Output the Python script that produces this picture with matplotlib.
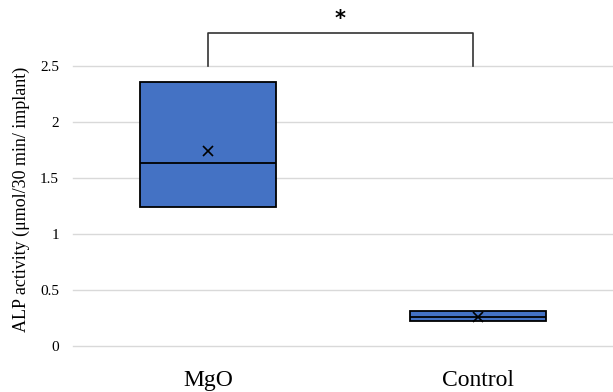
import numpy as np
import matplotlib.pyplot as plt

plt.rcParams['font.family'] = ['Liberation Serif', 'DejaVu Serif']

groups = ['MgO', 'Control']
mgo_vals = [1.24, 1.63, 2.36]
control_vals = [0.22, 0.26, 0.31]
yticks = [0, 0.5, 1, 1.5, 2, 2.5]
ytick_labels = ['0', '0.5', '1', '1.5', '2', '2.5']

# three replicates per group: quartiles (exclusive method) land on min/max
stats = []
for name, vals in zip(groups, [mgo_vals, control_vals]):
    v = np.sort(vals)
    stats.append(dict(label=name, med=np.median(v), q1=v[0], q3=v[-1],
                      whislo=v[0], whishi=v[-1], mean=np.mean(v), fliers=[]))

fig = plt.figure(figsize=(6.13, 3.92), dpi=100)
ax = fig.add_axes([73/613, 1-346/392, 540/613, 280/392])

ax.bxp(stats, positions=[0, 1], widths=0.507, patch_artist=True,
       showmeans=True, showcaps=False,
       boxprops=dict(facecolor='#4472C4', edgecolor='black', linewidth=1.3),
       medianprops=dict(color='black', linewidth=1.3),
       whiskerprops=dict(color='black', linewidth=1.3),
       meanprops=dict(marker='x', markeredgecolor='black', markersize=7, markeredgewidth=1.2))

ax.set_xlim(-0.5, 1.5)
ax.set_ylim(0, 2.5)
ax.set_yticks(yticks)
ax.set_yticklabels(ytick_labels, fontsize=11)
ax.set_xticks([0, 1])
ax.set_xticklabels(groups, fontsize=17)
ax.tick_params(axis='y', length=0, pad=10)
ax.tick_params(axis='x', length=0, pad=17)
ax.yaxis.grid(True, color='#d9d9d9', linewidth=1)
for gl in ax.get_ygridlines():
    gl.set_clip_on(False)
ax.set_axisbelow(True)
for s in ax.spines.values():
    s.set_visible(False)
ax.set_ylabel('ALP activity (μmol/30 min/ implant)', fontsize=13)
ax.yaxis.set_label_coords(-0.08, 0.525)

# significance bracket
ax.plot([0, 0, 0.98, 0.98], [2.5, 2.795, 2.795, 2.5], color='#333333', lw=1.2, clip_on=False)
ax.text(0.49, 2.83, '*', ha='center', va='bottom', fontsize=15, fontweight='bold',
        family='DejaVu Sans')

fig.savefig('out.png', dpi=100)
